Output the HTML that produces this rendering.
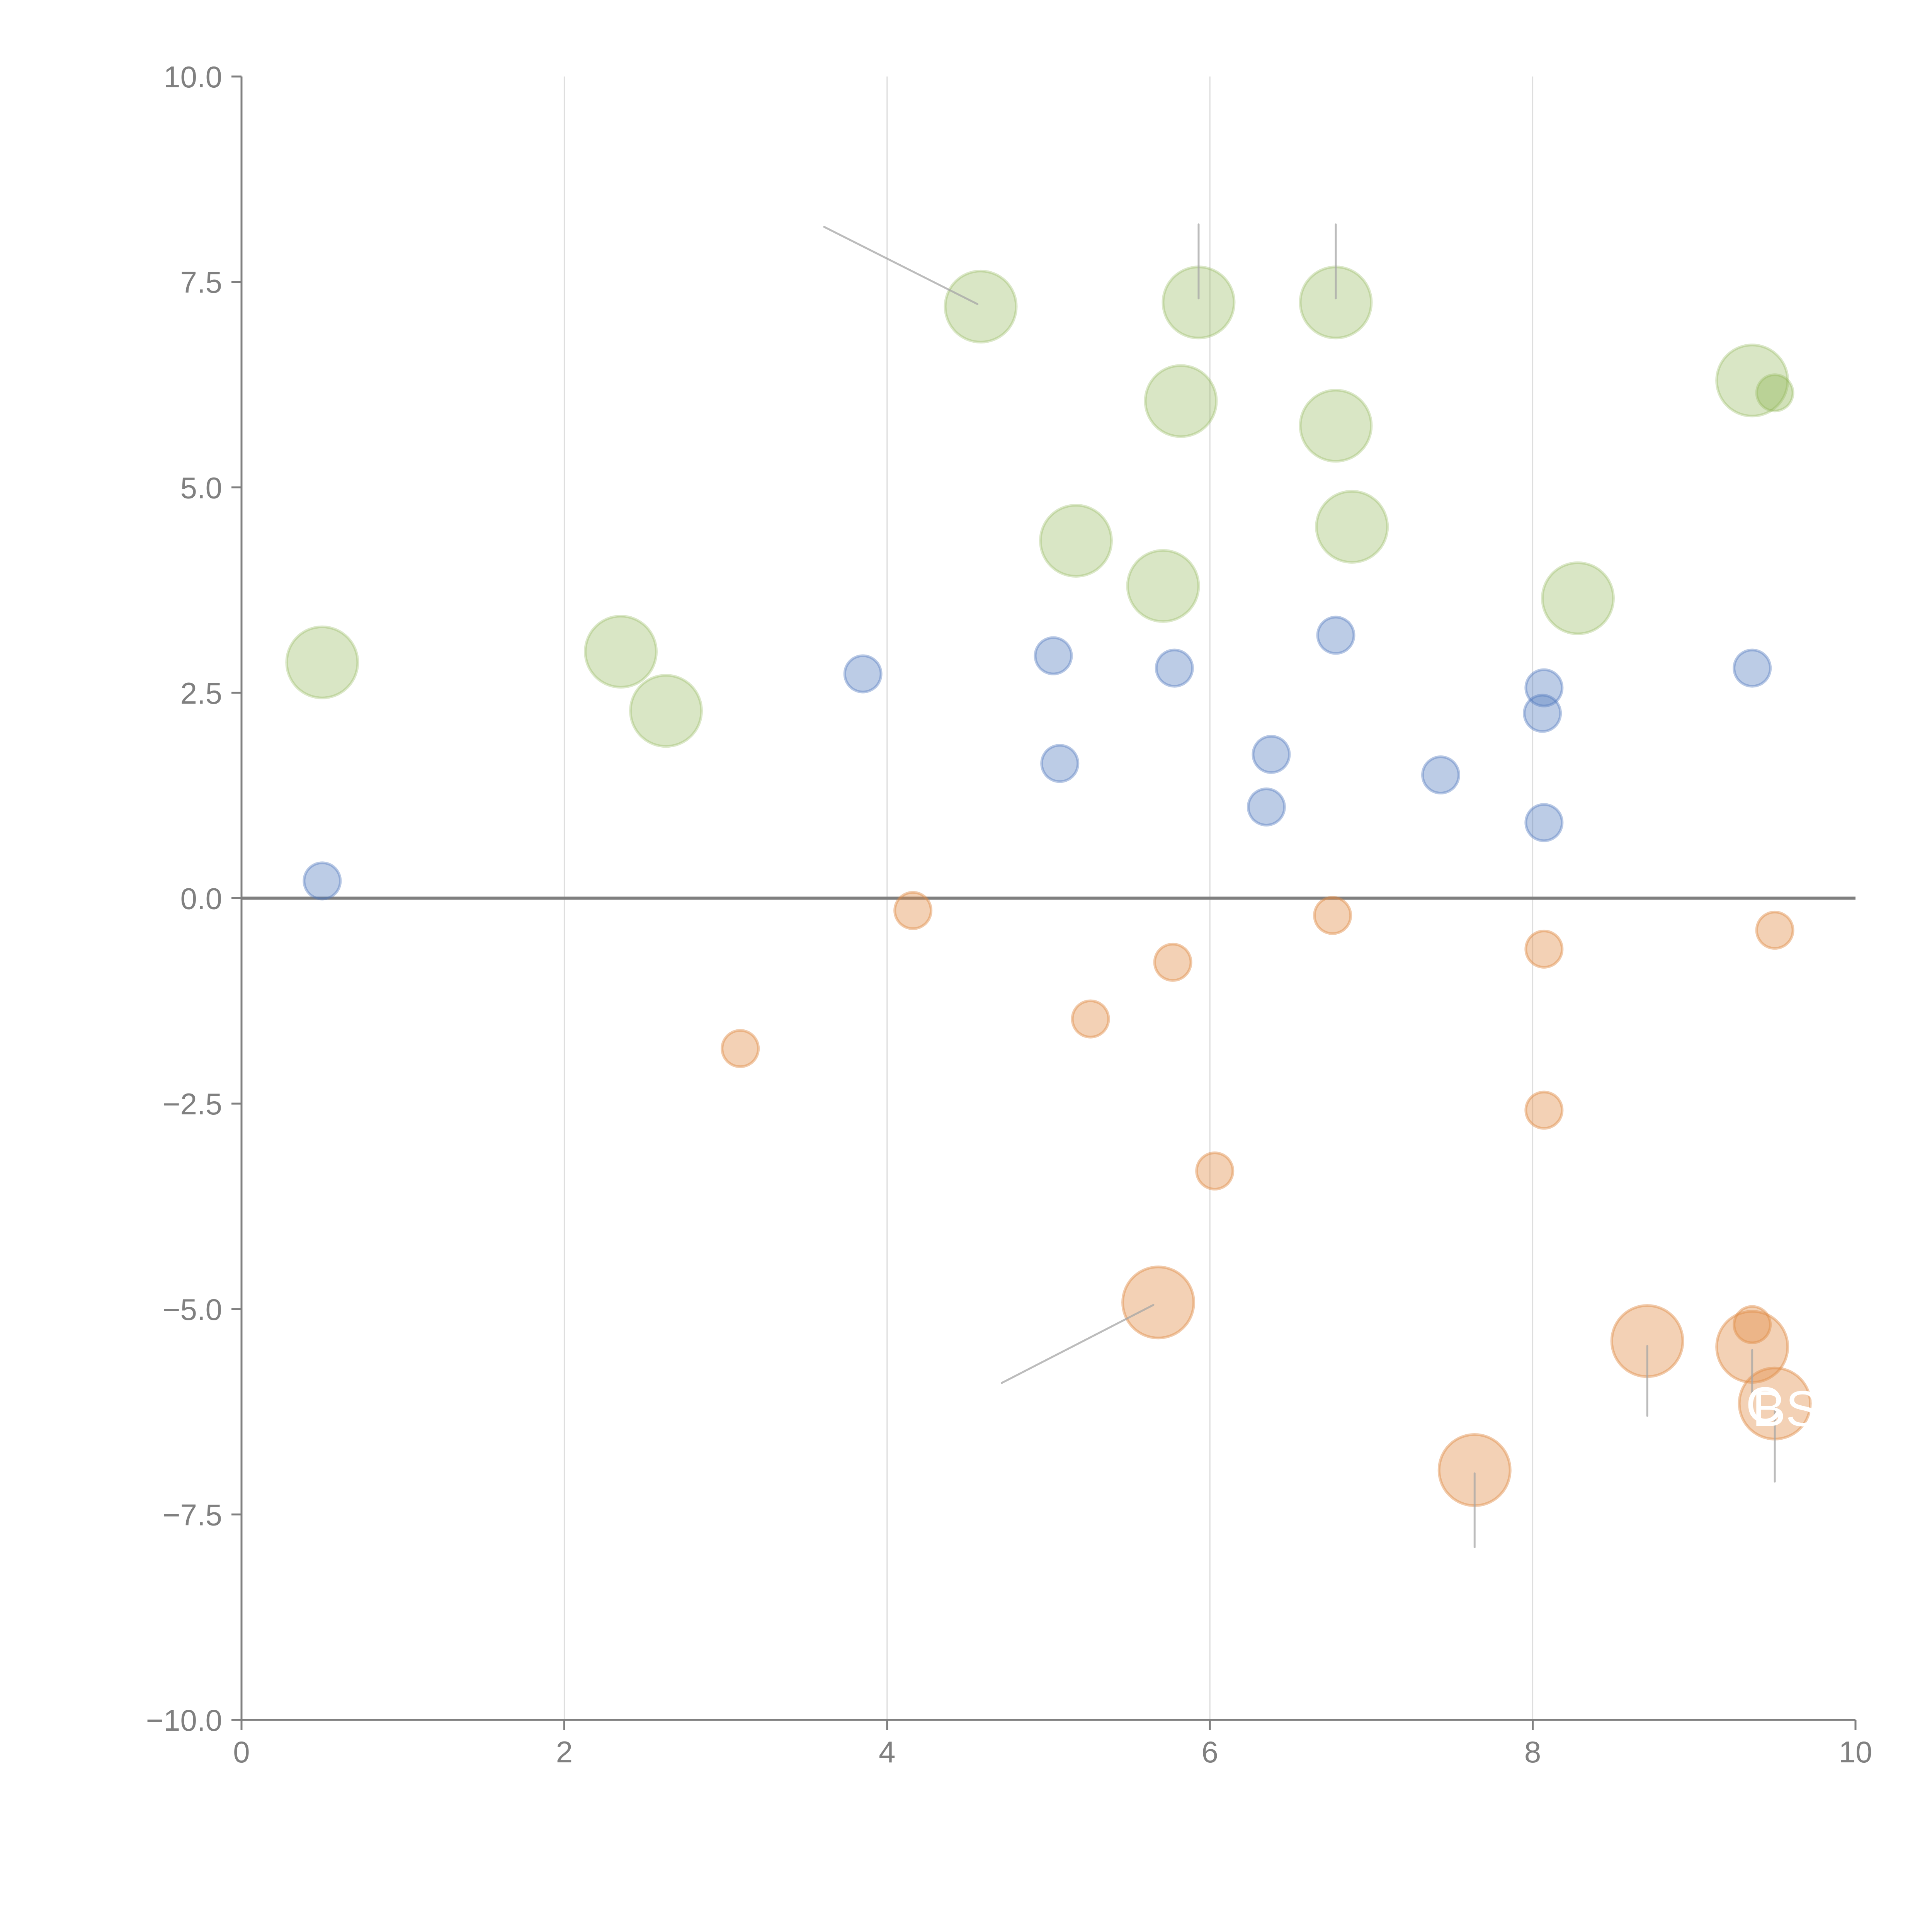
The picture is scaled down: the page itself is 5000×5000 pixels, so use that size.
<!DOCTYPE html>
<html><head><meta charset="utf-8"><style>
html,body{margin:0;padding:0;background:#fff;}
svg{display:block;}
text{font-family:"Liberation Sans",Arial,sans-serif;}
</style></head><body>
<svg id="chart" width="5000" height="5000" viewBox="0 0 5000 5000" xmlns="http://www.w3.org/2000/svg">
<g id="grid"></g>
<g id="axes"></g>
<g id="marks"></g>
<g id="ann"></g>
</svg>
<script>
const xTicks=[0,2,4,6,8,10];
const yTicks=[-10,-7.5,-5,-2.5,0,2.5,5,7.5,10];
const greenX=[0.5,2.35,2.63,4.58,5.17,5.71,5.82,5.93,6.78,6.78,6.88,8.28,9.36];
const greenY=[2.87,3.0,2.28,7.2,4.35,3.8,6.05,7.25,7.25,5.75,4.52,3.65,6.3];
const greenSmallX=[9.5];
const greenSmallY=[6.15];
const blueX=[0.5,3.85,5.03,5.07,5.78,6.38,6.35,6.78,7.43,8.07,8.06,8.07,9.36];
const blueY=[0.21,2.73,2.95,1.64,2.8,1.75,1.11,3.2,1.5,2.56,2.25,0.92,2.8];
const orangeX=[4.16,3.09,5.77,5.26,6.76,6.03,8.07,8.07,9.5,9.36];
const orangeY=[-0.15,-1.83,-0.78,-1.47,-0.21,-3.32,-0.62,-2.58,-0.39,-5.19];
const orangeBigX=[5.68,8.71,9.36,9.5,7.64];
const orangeBigY=[-4.92,-5.39,-5.46,-6.15,-6.96];

const X0=625,X1=4802,Y0=4451,Y1=198;
function sx(v){return X0+(v-0)/(10-0)*(X1-X0);}
function sy(v){return Y0-(v+10)/20*(Y0-Y1);}
const NS="http://www.w3.org/2000/svg";
function mk(tag,parent,attrs){const e=document.createElementNS(NS,tag);for(const k in attrs)e.setAttribute(k,attrs[k]);parent.appendChild(e);return e;}
const grid=document.getElementById('grid'),axes=document.getElementById('axes'),marks=document.getElementById('marks'),ann=document.getElementById('ann');

xTicks.forEach(t=>{
  if(t>0&&t<10){const g=mk('line',grid,{x1:sx(t),x2:sx(t),y1:Y1,y2:Y0,stroke:'#dcdcdc','stroke-width':3});
  
  }
  const tk=mk('line',axes,{x1:sx(t),x2:sx(t),y1:Y0,y2:Y0+26,stroke:'#808080','stroke-width':5});
  
  
  const tx=mk('text',axes,{x:sx(t),y:Y0+110,'text-anchor':'middle','font-size':78,fill:'#808080'});
  tx.textContent=String(t);
  
  
});
yTicks.forEach(t=>{
  const tk=mk('line',axes,{x1:X0-26,x2:X0,y1:sy(t),y2:sy(t),stroke:'#808080','stroke-width':5});
  
  
  const tx=mk('text',axes,{x:X0-50,y:sy(t)+28,'text-anchor':'end','font-size':78,fill:'#808080'});
  tx.textContent=(t<0?'\u2212':'')+Math.abs(t).toFixed(1);
  
  
});
const ya=mk('line',axes,{x1:X0,x2:X0,y1:Y1,y2:Y0,stroke:'#808080','stroke-width':5});


const xa=mk('line',axes,{x1:X0,x2:X1,y1:Y0,y2:Y0,stroke:'#808080','stroke-width':5});


const zl=mk('line',axes,{x1:X0,x2:X1,y1:sy(0),y2:sy(0),stroke:'#7f7f7f','stroke-width':8});



function series(xs,ys,r,rgb,fo,so,name){
  xs.forEach((x,i)=>{
    const c=mk('circle',marks,{cx:sx(x),cy:sy(ys[i]),r:r,fill:'rgb('+rgb+')','fill-opacity':fo,stroke:'rgb('+rgb+')','stroke-opacity':so,'stroke-width':7});
    
    
  });
}
series(greenX,greenY,92,'140,180,80',0.33,0.3,'green-bubble');
series(greenSmallX,greenSmallY,47,'140,180,80',0.4,0.3,'green-bubble-small');
series(blueX,blueY,47,'80,120,190',0.38,0.4,'blue-bubble');
series(orangeX,orangeY,47,'225,140,70',0.4,0.45,'orange-bubble');
series(orangeBigX,orangeBigY,92,'225,140,70',0.4,0.45,'orange-bubble-large');

const annLines=[[3.61,8.17,4.56,7.23],[5.93,8.2,5.93,7.3],[6.78,8.2,6.78,7.3],[4.71,-5.9,5.65,-4.95],[7.64,-7.0,7.64,-7.9],[8.71,-5.45,8.71,-6.3],[9.36,-5.5,9.36,-6.3],[9.5,-6.2,9.5,-7.1]];
annLines.forEach(a=>{
  const l=mk('line',ann,{x1:sx(a[0]),y1:sy(a[1]),x2:sx(a[2]),y2:sy(a[3]),stroke:'#a6a6a6','stroke-width':5,'stroke-linecap':'round','stroke-opacity':0.75});
  
  
});
const lbl=mk('text',ann,{x:sx(9.32),y:sy(-6.15)+48,'font-size':130,fill:'#ffffff'});
lbl.textContent='C';


const lbl2=mk('text',ann,{x:sx(9.36),y:sy(-6.15)+58,'font-size':130,fill:'#ffffff'});
lbl2.textContent='BS';


</script>
</body></html>
